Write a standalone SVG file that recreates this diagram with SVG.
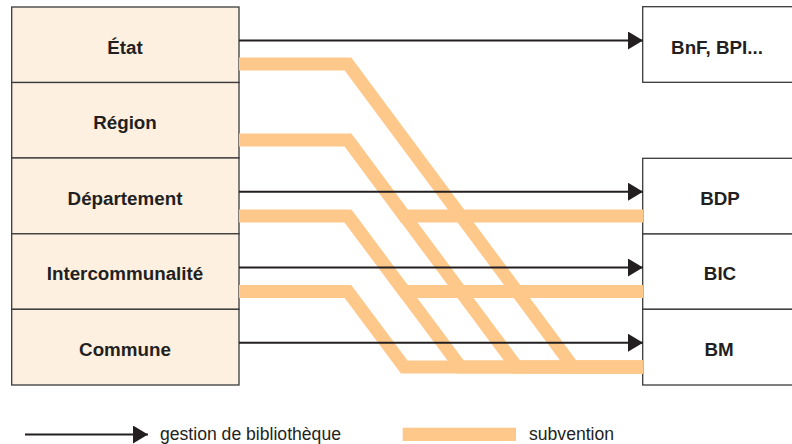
<svg xmlns="http://www.w3.org/2000/svg" width="792" height="444" viewBox="0 0 792 444">
<style>
.src{fill:#fdf0e1;stroke:#3a3a3a;stroke-width:1.3}
.dst{fill:#ffffff;stroke:#3a3a3a;stroke-width:1.3}
.lbl{font-family:"Liberation Sans",Arial,sans-serif;font-weight:bold;font-size:18.8px;fill:#231f20;text-anchor:middle}
.leg{font-family:"Liberation Sans",Arial,sans-serif;font-size:17.6px;fill:#231f20}
.sub{fill:none;stroke:#fec88a;stroke-width:13;stroke-linejoin:miter}
.ges{fill:none;stroke:#231f20;stroke-width:2;marker-end:url(#ah)}
</style>
<defs>
<marker id="ah" markerUnits="userSpaceOnUse" markerWidth="16" markerHeight="18" refX="15" refY="9" orient="auto">
<path d="M0,0 L15,9 L0,18 Z" fill="#231f20"/>
</marker>
</defs>
<rect width="792" height="444" fill="#ffffff"/>
<g id="etat"><rect class="src" x="11.7" y="7" width="227.3" height="75.5"/><text class="lbl" x="125" y="53.5">État</text></g>
<g id="region"><rect class="src" x="11.7" y="82.5" width="227.3" height="75.5"/><text class="lbl" x="125" y="129">Région</text></g>
<g id="departement"><rect class="src" x="11.7" y="158" width="227.3" height="75.8"/><text class="lbl" x="125" y="204.5">Département</text></g>
<g id="intercommunalite"><rect class="src" x="11.7" y="233.8" width="227.3" height="75.5"/><text class="lbl" x="125" y="280">Intercommunalité</text></g>
<g id="commune"><rect class="src" x="11.7" y="309.3" width="227.3" height="75.7"/><text class="lbl" x="125" y="356">Commune</text></g>
<g id="bnf"><rect class="dst" x="642.7" y="6.7" width="160" height="75.6"/><text class="lbl" x="717" y="53.5">BnF, BPI...</text></g>
<g id="bdp"><rect class="dst" x="642.7" y="158.3" width="160" height="75.7"/><text class="lbl" x="720" y="204.5">BDP</text></g>
<g id="bic"><rect class="dst" x="642.7" y="234" width="160" height="75.3"/><text class="lbl" x="720" y="280">BIC</text></g>
<g id="bm"><rect class="dst" x="642.7" y="309.3" width="160" height="75.7"/><text class="lbl" x="719" y="356">BM</text></g>
<g id="connectors">
<path class="sub" d="M239,64 H348 L573,367 H643"/>
<path class="sub" d="M239,140 H348 L516.75,367 H643"/>
<path class="sub" d="M239,216 H348 L460.5,367 H643"/>
<path class="sub" d="M239,291.5 H348 L404.25,367 H643"/>
<path class="sub" d="M643,216 H404.25 L348,140"/>
<path class="sub" d="M643,291.5 H404.25 L348,216"/>
<path class="ges" d="M239,40.5 H643"/>
<path class="ges" d="M239,191.7 H643"/>
<path class="ges" d="M239,267.5 H643"/>
<path class="ges" d="M239,342.7 H643"/>
</g>
<g id="legend">
<path class="ges" d="M25,434.5 H148"/>
<text class="leg" x="160" y="440">gestion de bibliothèque</text>
<rect x="402.7" y="427.7" width="113.3" height="13.3" fill="#fec88a"/>
<text class="leg" x="529" y="440">subvention</text>
</g>
</svg>
